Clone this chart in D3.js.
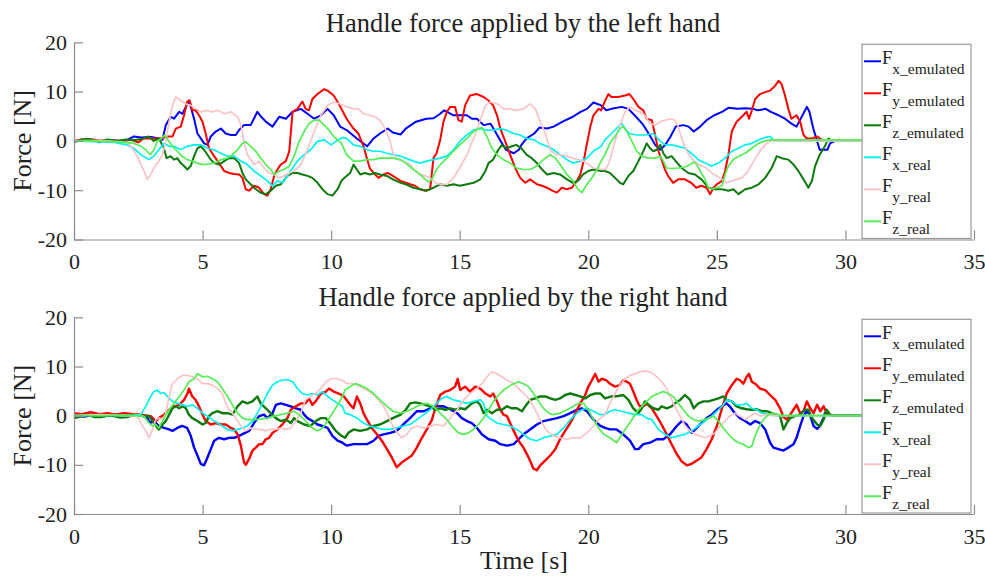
<!DOCTYPE html>
<html><head><meta charset="utf-8">
<script src="https://cdn.jsdelivr.net/npm/d3@7"></script>
<style>
html,body{margin:0;padding:0;background:#fff;}
svg{display:block;font-family:"Liberation Serif","Times New Roman",serif;}
svg text{font-family:"Liberation Serif","Times New Roman",serif;}
</style></head><body>
<svg id="chart" width="985" height="581"></svg>
<script>
// ---------- data ----------
const timeTicks = [0,5,10,15,20,25,30,35];
const forceTicks = [-20,-10,0,10,20];
const titles = ["Handle force applied by the left hand","Handle force applied by the right hand"];
const yLabel = "Force [N]";
const xLabel = "Time [s]";
const seriesNames = ["x_emulated","y_emulated","z_emulated","x_real","y_real","z_real"];
const seriesColors = ["#0000ff","#ff0000","#0d7a0d","#00f2f2","#fbc3c8","#55ee55"];

// Left hand [time s, force N]
const leftFxEmu = [[0,0],[0.5,0.1],[1,0],[1.5,0.1],[2,0],[2.33,0.9],[2.6,0.7],[3.0,0.8],[3.3,0.5],[3.44,0.2],[3.57,3.2],[3.76,4.9],[3.89,4.5],[4.09,5.9],[4.22,5.5],[4.47,8.2],[4.67,4.5],[4.8,1.5],[5.06,-0.5],[5.19,-0.8],[5.32,0.9],[5.51,1.9],[5.71,2.5],[5.9,1.5],[6.1,1.2],[6.29,1.2],[6.42,2.2],[6.61,3.2],[6.87,3.2],[7.13,5.9],[7.26,5.0],[7.46,3.9],[7.72,2.9],[7.98,4.9],[8.24,4.5],[8.5,5.9],[8.82,6.5],[9.08,5.5],[9.34,4.5],[9.6,5.2],[9.86,6.5],[10.1,5.2],[10.35,2.9],[10.6,2.2],[11.0,0.5],[11.4,-1.1],[11.65,0.5],[11.9,1.5],[12.2,2.5],[12.4,1.7],[12.7,1.3],[12.9,2.5],[13.3,3.9],[13.7,4.5],[13.98,4.6],[14.24,5.5],[14.4,6.2],[14.76,5.2],[15.0,5.2],[15.28,5.2],[15.47,4.5],[15.67,4.5],[15.93,3.2],[16.2,3.5],[16.38,1.9],[16.6,-0.1],[16.8,-1.8],[17.1,-2.5],[17.3,-1.8],[17.4,-0.8],[17.6,0.5],[17.9,1.5],[18.1,2.7],[18.4,2.5],[18.65,2.9],[19.0,3.9],[19.4,4.9],[19.7,5.9],[19.95,6.5],[20.2,7.8],[20.5,7.2],[20.7,6.2],[20.9,6.5],[21.3,6.9],[21.56,6.5],[21.8,5.2],[22.1,3.5],[22.3,1.9],[22.6,-0.8],[22.8,-1.8],[23.0,-0.8],[23.2,0.9],[23.4,2.9],[23.7,3.2],[23.9,2.9],[24.1,1.9],[24.35,2.9],[24.6,4.2],[24.9,5.2],[25.2,5.9],[25.45,6.7],[25.8,6.5],[26.1,6.6],[26.4,6.5],[26.6,6.2],[26.9,6.5],[27.1,5.9],[27.4,5.2],[27.65,4.5],[27.9,3.5],[28.1,2.9],[28.3,4.9],[28.5,6.9],[28.6,5.9],[28.75,2.5],[29.0,-1.8],[29.3,-1.8],[29.4,-0.5],[29.6,0],[31,0]];
const leftFyEmu = [[0,0],[0.3,0.3],[0.6,0.4],[1.0,0.1],[1.4,0.2],[1.8,0],[2.2,0.2],[2.5,-0.3],[2.7,0.5],[2.9,0.5],[3.1,0.5],[3.37,0.5],[3.63,0.9],[3.83,0.9],[3.96,2.5],[4.15,2.9],[4.28,5.2],[4.4,7.9],[4.5,8.2],[4.6,6.2],[4.73,6.2],[4.86,5.2],[5.0,3.9],[5.12,1.5],[5.25,-1.5],[5.45,-3.1],[5.64,-4.5],[5.84,-6.1],[6.03,-6.5],[6.23,-6.7],[6.42,-6.8],[6.55,-7.5],[6.68,-9.8],[6.81,-10.1],[7.0,-9.1],[7.2,-9.5],[7.39,-10.8],[7.52,-11.1],[7.65,-9.8],[7.78,-7.1],[7.91,-5.8],[8.04,-4.8],[8.24,-4.1],[8.37,-2.1],[8.5,5.9],[8.69,6.5],[8.88,8.0],[9.01,6.5],[9.14,6.2],[9.27,8.5],[9.47,9.5],[9.73,10.5],[9.86,10.2],[10.1,9.2],[10.3,7.5],[10.45,6.0],[10.6,4.5],[10.87,2.5],[11.06,1.5],[11.26,-1.1],[11.39,-3.5],[11.5,-5.5],[11.65,-6.5],[11.84,-7.5],[12.04,-6.8],[12.2,-6.5],[12.4,-7.1],[12.7,-8.1],[12.9,-8.5],[13.07,-8.8],[13.27,-9.1],[13.46,-9.8],[13.66,-10.1],[13.85,-9.8],[13.98,-3.5],[14.1,-2.5],[14.24,0.2],[14.37,3.9],[14.5,5.9],[14.63,6.9],[14.82,6.9],[14.95,4.2],[15.08,3.9],[15.21,7.2],[15.4,9.2],[15.67,9.5],[15.93,8.9],[16.12,8.2],[16.3,7.2],[16.45,5.2],[16.58,2.5],[16.77,-0.1],[16.96,-2.8],[17.16,-5.5],[17.35,-7.5],[17.55,-8.5],[17.74,-7.8],[18.0,-8.8],[18.2,-9.1],[18.39,-9.5],[18.6,-10.1],[18.78,-10.5],[18.97,-9.5],[19.17,-9.8],[19.36,-9.5],[19.56,-8.1],[19.69,-6.8],[19.82,-4.1],[19.95,-0.5],[20.08,2.9],[20.2,5.2],[20.4,6.5],[20.5,6.2],[20.66,8.2],[20.78,9.5],[20.9,8.9],[21.17,8.9],[21.43,9.2],[21.6,9.5],[21.75,8.5],[21.95,6.9],[22.14,6.2],[22.27,4.5],[22.47,4.2],[22.6,1.2],[22.73,-2.1],[22.85,-3.8],[22.98,-5.8],[23.1,-7.1],[23.3,-8.5],[23.5,-7.8],[23.76,-7.8],[24.0,-8.5],[24.2,-9.5],[24.4,-9.1],[24.6,-9.5],[24.74,-10.8],[24.87,-9.5],[25.0,-8.8],[25.2,-8.1],[25.32,-6.1],[25.45,-2.8],[25.58,1.9],[25.77,3.9],[25.97,4.9],[26.16,5.9],[26.25,4.5],[26.36,6.2],[26.49,8.5],[26.68,9.5],[26.88,9.9],[27.07,10.2],[27.27,11.2],[27.4,12.2],[27.52,11.5],[27.65,9.2],[27.78,6.5],[27.9,4.5],[28.1,5.2],[28.24,3.9],[28.37,1.2],[28.5,0.5],[28.7,0.5],[28.9,0.9],[29.08,0.2],[29.3,0],[31,0]];
const leftFzEmu = [[0,-0.3],[0.3,0.3],[0.6,0.4],[1.0,-0.3],[1.3,0.3],[1.7,0],[2.0,0.3],[2.4,0.2],[2.7,0.5],[2.9,0.9],[3.1,0],[3.3,0.5],[3.5,-1.5],[3.6,-3.5],[3.76,-3.1],[3.89,-3.8],[4.02,-3.5],[4.15,-4.5],[4.28,-5.1],[4.41,-5.8],[4.54,-5.1],[4.67,-3.1],[4.8,-1.5],[4.93,-1.1],[5.06,-1.8],[5.19,-2.8],[5.32,-3.8],[5.45,-4.5],[5.64,-4.8],[5.84,-4.1],[6.03,-3.5],[6.23,-3.5],[6.42,-4.5],[6.55,-6.5],[6.68,-7.8],[6.87,-8.8],[7.07,-9.8],[7.26,-10.5],[7.46,-10.8],[7.65,-10.1],[7.85,-9.1],[8.04,-8.8],[8.3,-7.1],[8.5,-6.5],[8.69,-6.5],[8.88,-6.8],[9.08,-7.1],[9.27,-7.5],[9.47,-8.5],[9.66,-9.8],[9.86,-10.8],[10.05,-11.1],[10.25,-9.8],[10.4,-8.1],[10.6,-7.1],[10.74,-6.5],[10.87,-4.8],[11.0,-5.8],[11.13,-6.8],[11.32,-6.5],[11.5,-6.8],[11.7,-6.5],[11.9,-6.8],[12.17,-7.1],[12.4,-7.8],[12.7,-8.5],[12.9,-8.8],[13.2,-9.5],[13.46,-9.8],[13.72,-10.1],[13.98,-9.5],[14.24,-8.8],[14.5,-9.1],[14.76,-8.8],[15.0,-9.1],[15.28,-8.8],[15.54,-8.5],[15.8,-7.8],[16.0,-6.1],[16.12,-4.5],[16.3,-3.8],[16.5,-1.8],[16.64,-0.8],[16.8,-1.5],[17.03,-1.1],[17.2,-0.8],[17.4,-1.5],[17.6,-2.8],[17.8,-3.5],[18.0,-4.5],[18.2,-5.8],[18.4,-6.8],[18.65,-6.5],[18.9,-6.8],[19.17,-7.8],[19.4,-8.5],[19.6,-8.1],[19.8,-6.8],[20.0,-6.1],[20.2,-5.8],[20.5,-6.1],[20.65,-6.1],[20.84,-6.5],[21.04,-7.5],[21.23,-8.5],[21.36,-8.8],[21.56,-7.1],[21.75,-6.1],[21.95,-4.1],[22.14,-2.1],[22.27,-0.5],[22.4,-1.5],[22.53,-2.1],[22.66,-1.8],[22.8,-0.8],[22.92,-2.5],[23.05,-3.5],[23.24,-3.1],[23.4,-4.1],[23.63,-5.5],[23.89,-6.5],[24.15,-6.8],[24.4,-7.8],[24.67,-9.5],[24.93,-9.8],[25.2,-9.8],[25.45,-10.1],[25.64,-9.8],[25.84,-10.8],[26.1,-9.8],[26.36,-9.5],[26.62,-8.8],[26.88,-7.5],[27.13,-5.5],[27.33,-3.1],[27.52,-3.5],[27.78,-3.8],[27.98,-4.8],[28.17,-6.1],[28.37,-7.8],[28.56,-9.5],[28.7,-8.1],[28.82,-5.1],[29.0,-2.8],[29.2,-1.1],[29.34,0.5],[29.47,0],[31,0]];
const leftFxReal = [[0,0],[1.56,-0.3],[2.07,-0.8],[2.33,-1.5],[2.6,-2.8],[2.92,-3.8],[3.1,-3.1],[3.3,-1.8],[3.5,-0.5],[3.7,-1.1],[3.89,-1.1],[4.15,-1.8],[4.4,-1.1],[4.67,-0.8],[4.93,-0.8],[5.19,-1.5],[5.45,-1.8],[5.71,-2.5],[5.97,-3.1],[6.23,-3.1],[6.49,-4.1],[6.74,-4.8],[7.0,-6.1],[7.26,-7.1],[7.52,-8.1],[7.72,-9.1],[7.91,-8.1],[8.1,-8.5],[8.3,-7.1],[8.5,-5.5],[8.69,-4.1],[8.95,-2.8],[9.2,-1.8],[9.47,-0.1],[9.73,0.2],[10.0,-0.8],[10.18,-0.1],[10.44,0.7],[10.6,0.5],[10.87,-0.8],[11.13,-1.1],[11.4,-1.8],[11.65,-2.1],[11.9,-2.1],[12.17,-2.5],[12.4,-2.8],[12.7,-3.1],[12.9,-3.5],[13.2,-4.1],[13.46,-4.5],[13.72,-4.1],[13.98,-3.8],[14.24,-3.5],[14.5,-3.1],[14.76,-1.8],[15.0,-0.1],[15.28,1.2],[15.54,2.2],[15.8,2.5],[16.06,2.2],[16.3,2.2],[16.58,2.5],[16.8,2.2],[17.1,1.5],[17.35,1.2],[17.6,0.5],[17.9,0.2],[18.1,-0.5],[18.4,-1.1],[18.65,-1.8],[18.9,-2.8],[19.17,-3.8],[19.4,-4.5],[19.69,-4.1],[19.95,-3.5],[20.2,-2.1],[20.5,-1.1],[20.65,0.2],[20.9,1.5],[21.17,2.9],[21.3,3.5],[21.43,2.5],[21.6,1.5],[21.88,1.2],[22.2,1.2],[22.53,1.5],[22.8,-0.1],[23.0,-0.8],[23.24,-0.8],[23.5,-1.1],[23.76,-1.5],[24.0,-2.5],[24.28,-3.8],[24.54,-4.5],[24.8,-5.1],[25.06,-4.5],[25.32,-3.5],[25.58,-2.1],[25.84,-1.5],[26.1,-0.8],[26.36,-0.5],[26.62,0.2],[26.88,0.7],[27.07,0.9],[27.2,0.2],[27.4,0],[31,0]];
const leftFyReal = [[0,0],[1.0,0.1],[2.07,-0.3],[2.27,-1.5],[2.46,-3.1],[2.6,-4.8],[2.72,-6.1],[2.85,-7.8],[2.98,-6.8],[3.11,-5.5],[3.3,-4.1],[3.44,-2.8],[3.57,-0.1],[3.7,3.9],[3.83,7.2],[3.96,8.9],[4.15,8.2],[4.35,7.5],[4.54,7.2],[4.73,6.5],[4.93,5.9],[5.19,6.2],[5.38,5.9],[5.58,6.2],[5.84,5.5],[6.1,5.9],[6.36,4.9],[6.49,3.2],[6.61,-0.1],[6.74,-2.8],[6.87,-3.8],[7.0,-4.8],[7.2,-4.1],[7.39,-5.5],[7.59,-6.5],[7.78,-6.8],[7.98,-7.5],[8.17,-7.1],[8.37,-6.5],[8.56,-6.1],[8.82,-4.8],[9.08,-1.8],[9.34,1.9],[9.6,5.2],[9.86,7.2],[10.1,7.9],[10.4,7.4],[10.6,6.9],[10.87,6.5],[11.06,6.5],[11.26,5.5],[11.5,5.2],[11.7,4.9],[11.9,4.2],[12.1,2.5],[12.3,-0.1],[12.4,-2.5],[12.6,-3.8],[12.8,-4.1],[13.07,-4.8],[13.27,-6.1],[13.46,-6.8],[13.66,-7.1],[13.85,-7.5],[14.05,-8.5],[14.24,-8.8],[14.5,-8.8],[14.76,-7.5],[15.0,-5.5],[15.28,-2.8],[15.54,0.5],[15.8,4.2],[16.0,7.2],[16.19,7.9],[16.45,7.5],[16.7,6.5],[16.96,6.5],[17.2,6.2],[17.48,6.5],[17.74,7.5],[17.94,6.5],[18.13,3.9],[18.33,1.5],[18.52,-1.8],[18.72,-2.8],[18.9,-2.8],[19.17,-3.1],[19.4,-3.5],[19.6,-3.8],[19.82,-4.1],[20.0,-4.8],[20.2,-5.5],[20.5,-5.8],[20.65,-5.8],[20.78,-4.8],[20.9,-2.8],[21.04,-0.1],[21.23,3.2],[21.43,5.9],[21.62,6.9],[21.82,6.2],[22.0,5.9],[22.2,5.2],[22.4,3.5],[22.6,3.2],[22.8,3.9],[23.0,4.2],[23.18,4.5],[23.37,4.2],[23.5,2.9],[23.63,0.5],[23.83,-2.1],[24.02,-3.5],[24.22,-4.5],[24.4,-5.1],[24.6,-5.5],[24.8,-6.5],[25.0,-7.1],[25.2,-7.8],[25.38,-8.5],[25.58,-8.1],[25.77,-7.8],[25.97,-7.5],[26.16,-6.5],[26.36,-4.8],[26.55,-3.1],[26.75,-1.5],[26.94,-0.5],[27.13,0],[31,0]];
const leftFzReal = [[0,0],[0.78,0],[1.95,-0.3],[2.33,-0.5],[2.6,-1.1],[2.79,-1.8],[2.96,-2.8],[3.11,-1.8],[3.24,-0.1],[3.4,0.5],[3.53,1.2],[3.66,0.2],[3.83,-1.1],[4.02,-2.1],[4.2,-3.1],[4.4,-3.8],[4.6,-4.1],[4.8,-4.5],[5.0,-4.8],[5.19,-4.7],[5.45,-4.5],[5.71,-3.8],[5.97,-3.5],[6.16,-2.8],[6.36,-1.8],[6.55,-0.5],[6.68,-0.2],[6.87,-1.1],[7.07,-2.1],[7.26,-3.5],[7.46,-4.8],[7.65,-5.8],[7.78,-6.8],[7.98,-6.1],[8.17,-5.8],[8.37,-5.1],[8.56,-3.1],[8.75,-0.1],[8.95,1.9],[9.14,3.5],[9.34,4.2],[9.53,4.2],[9.73,3.2],[9.92,2.2],[10.1,0.9],[10.4,-0.5],[10.6,-2.8],[10.87,-4.1],[11.13,-4.1],[11.4,-3.8],[11.65,-3.8],[11.9,-3.5],[12.17,-3.5],[12.4,-3.5],[12.7,-3.8],[12.9,-4.5],[13.2,-5.8],[13.46,-6.8],[13.66,-7.8],[13.79,-8.3],[13.92,-7.8],[14.1,-5.8],[14.3,-4.5],[14.5,-3.5],[14.76,-2.1],[15.0,-0.8],[15.28,0.5],[15.54,1.9],[15.73,2.5],[15.86,2.7],[16.06,0.9],[16.25,-1.5],[16.45,-2.8],[16.7,-3.8],[16.96,-4.5],[17.2,-5.5],[17.48,-5.8],[17.74,-5.8],[18.0,-5.1],[18.26,-3.8],[18.52,-2.8],[18.72,-3.5],[18.9,-4.8],[19.17,-6.8],[19.4,-8.1],[19.6,-9.8],[19.75,-10.5],[19.95,-8.8],[20.14,-7.5],[20.34,-5.8],[20.5,-4.1],[20.65,-2.8],[20.84,-0.5],[21.04,0.9],[21.23,2.5],[21.36,2.9],[21.5,1.9],[21.7,-0.1],[21.88,-2.1],[22.08,-3.1],[22.34,-3.5],[22.6,-3.5],[22.8,-3.1],[22.92,-4.1],[23.05,-5.5],[23.24,-5.6],[23.5,-5.5],[23.76,-5.3],[23.96,-4.8],[24.1,-4.3],[24.22,-4.8],[24.35,-6.1],[24.54,-7.8],[24.67,-9.5],[24.8,-9.8],[25.0,-9.5],[25.2,-9.1],[25.32,-6.8],[25.45,-5.1],[25.64,-3.8],[25.84,-3.1],[26.1,-2.5],[26.36,-1.5],[26.62,-0.5],[26.88,0],[27.13,0.2],[31,0.2]];

// Right hand [time s, force N]
const rightFxEmu = [[0,0],[0.4,-0.2],[0.8,0.2],[1.2,-0.1],[1.6,0.2],[2.0,0],[2.4,0.1],[2.7,-0.1],[2.85,-0.5],[2.96,-1.5],[3.11,-1.1],[3.3,-2.1],[3.5,-2.5],[3.7,-2.8],[3.83,-3.1],[4.02,-2.5],[4.2,-2.1],[4.4,-2.5],[4.54,-4.1],[4.67,-6.5],[4.8,-8.1],[4.93,-9.8],[5.06,-10.1],[5.19,-8.5],[5.32,-6.8],[5.45,-5.1],[5.64,-4.5],[5.84,-4.8],[6.03,-4.5],[6.23,-4.5],[6.42,-4.1],[6.61,-3.6],[6.81,-3.1],[7.0,-1.5],[7.2,-0.1],[7.39,0.2],[7.52,-0.5],[7.72,0.5],[7.85,2.2],[8.04,2.5],[8.24,2.2],[8.43,1.9],[8.63,1.5],[8.82,1.2],[8.95,0.2],[9.08,-0.5],[9.27,-1.1],[9.47,-1.8],[9.66,-2.1],[9.86,-2.5],[10.05,-4.1],[10.25,-5.1],[10.44,-5.5],[10.6,-6.1],[10.87,-5.8],[11.13,-5.8],[11.4,-5.8],[11.65,-5.1],[11.84,-4.1],[12.04,-3.8],[12.3,-3.5],[12.55,-3.1],[12.8,-1.8],[13.07,-0.5],[13.33,0.9],[13.6,0.9],[13.85,1.5],[14.1,1.9],[14.37,1.9],[14.63,1.3],[14.9,0.5],[15.08,-0.5],[15.28,-1.1],[15.47,-1.5],[15.67,-2.5],[15.86,-3.8],[16.12,-4.8],[16.38,-5.1],[16.58,-5.8],[16.84,-6.1],[17.1,-5.8],[17.29,-4.8],[17.48,-3.8],[17.74,-2.8],[18.0,-1.8],[18.26,-1.1],[18.52,-0.8],[18.78,-0.5],[19.04,-0.1],[19.3,0.5],[19.56,1.2],[19.75,1.5],[19.95,0.9],[20.2,-0.8],[20.47,-2.1],[20.65,-2.5],[20.84,-2.8],[21.1,-2.8],[21.36,-3.8],[21.62,-5.1],[21.82,-6.8],[21.95,-6.8],[22.14,-5.8],[22.4,-5.5],[22.66,-4.8],[22.92,-4.8],[23.18,-3.8],[23.44,-2.1],[23.63,-1.1],[23.83,-1.8],[24.02,-3.5],[24.22,-2.5],[24.4,-1.5],[24.6,-0.5],[24.8,0.2],[25.0,1.2],[25.2,1.9],[25.38,2.5],[25.5,1.9],[25.7,0.5],[25.9,-0.5],[26.1,-1.1],[26.3,-1.8],[26.49,-1.1],[26.68,-1.5],[26.88,-2.8],[27.07,-5.5],[27.2,-6.5],[27.4,-6.8],[27.59,-7.1],[27.78,-6.5],[27.98,-5.8],[28.1,-4.5],[28.24,-2.1],[28.37,-0.1],[28.5,0.9],[28.63,0],[28.76,-2.1],[28.9,-2.7],[29.0,-2.1],[29.15,-0.5],[29.2,0.5],[29.34,0.2],[29.5,0],[31,0]];
const rightFyEmu = [[0,0.5],[0.3,0.3],[0.65,0.7],[1.0,0.3],[1.3,0.5],[1.6,0.2],[1.95,0.5],[2.3,0.3],[2.6,0.2],[2.98,-0.1],[3.18,-1.1],[3.3,-0.5],[3.5,0.2],[3.7,1.2],[3.9,1.9],[4.09,2.2],[4.28,3.2],[4.41,4.5],[4.47,5.5],[4.6,3.9],[4.73,3.2],[4.86,1.9],[5.0,0.2],[5.12,-1.1],[5.32,-1.8],[5.51,-1.5],[5.71,-1.8],[5.9,-1.8],[6.1,-2.5],[6.23,-2.8],[6.36,-3.8],[6.49,-6.1],[6.61,-9.5],[6.68,-10],[6.81,-8.8],[6.94,-7.1],[7.07,-6.5],[7.2,-5.8],[7.33,-5.8],[7.46,-4.8],[7.59,-4.5],[7.72,-3.5],[7.91,-2.8],[8.1,-1.8],[8.3,-0.5],[8.43,1.2],[8.63,1.9],[8.82,2.5],[9.0,2.5],[9.14,3.5],[9.27,2.2],[9.4,2.9],[9.6,4.5],[9.79,4.9],[9.92,5.5],[10.1,4.9],[10.3,4.5],[10.5,3.9],[10.74,2.2],[10.87,1.5],[11.0,3.9],[11.13,2.5],[11.26,0.5],[11.39,-0.8],[11.58,-2.5],[11.78,-3.8],[11.97,-5.1],[12.17,-6.8],[12.36,-8.5],[12.55,-10.5],[12.75,-9.5],[12.94,-8.8],[13.14,-8.1],[13.33,-6.5],[13.53,-4.5],[13.72,-2.8],[13.92,-0.8],[14.05,1.5],[14.24,4.2],[14.44,4.9],[14.63,5.2],[14.82,5.9],[14.92,7.5],[15.02,5.2],[15.21,5.9],[15.4,4.9],[15.6,5.9],[15.8,5.5],[16.0,4.5],[16.19,3.9],[16.3,4.5],[16.45,2.9],[16.58,1.2],[16.7,0.2],[16.84,-0.1],[16.96,-1.5],[17.1,-3.1],[17.29,-5.1],[17.48,-6.5],[17.68,-8.5],[17.87,-10.8],[18.0,-11.1],[18.13,-10.1],[18.33,-9.1],[18.52,-8.1],[18.72,-6.8],[18.9,-4.8],[19.1,-3.1],[19.3,-1.5],[19.5,0.5],[19.69,2.5],[19.88,4.2],[20.0,5.9],[20.14,7.2],[20.27,8.5],[20.4,6.9],[20.53,7.5],[20.7,7.2],[20.84,6.5],[21.04,5.9],[21.23,6.2],[21.36,7.2],[21.5,6.9],[21.62,6.5],[21.75,4.9],[21.88,3.2],[22.0,1.9],[22.14,1.9],[22.27,2.5],[22.47,1.5],[22.66,-0.1],[22.85,-1.8],[23.05,-3.8],[23.24,-5.8],[23.44,-7.8],[23.63,-9.3],[23.83,-10.1],[24.02,-9.8],[24.22,-9.1],[24.4,-8.5],[24.6,-6.8],[24.8,-4.8],[25.0,-2.1],[25.2,1.5],[25.38,4.5],[25.58,6.2],[25.77,7.5],[25.9,7.2],[26.03,6.5],[26.16,7.9],[26.25,8.5],[26.36,6.9],[26.49,6.5],[26.68,5.5],[26.88,5.2],[27.07,4.2],[27.27,3.2],[27.46,1.5],[27.59,-0.3],[27.72,-0.8],[27.85,0.2],[27.98,1.2],[28.1,2.2],[28.24,0.5],[28.37,0.9],[28.5,2.9],[28.63,1.5],[28.76,0.5],[28.9,2.2],[29.02,0.9],[29.15,1.9],[29.27,0.5],[29.4,0.2],[29.6,0],[31,0]];
const rightFzEmu = [[0,-0.5],[0.25,-0.2],[0.52,0.2],[0.8,-0.3],[1.04,-0.3],[1.3,0],[1.56,-0.1],[1.8,-0.4],[2.07,-0.3],[2.3,0.1],[2.6,0],[2.92,-0.1],[3.11,-1.5],[3.3,-2.8],[3.44,-1.8],[3.57,-1.1],[3.7,0.2],[3.83,1.5],[3.96,1.9],[4.09,1.5],[4.22,1.9],[4.35,1.5],[4.47,0.2],[4.6,-0.5],[4.8,-1.1],[5.0,-1.8],[5.12,-1.5],[5.25,-0.1],[5.38,0.5],[5.58,0.9],[5.77,0.5],[5.97,0.5],[6.16,0.2],[6.36,1.9],[6.55,2.9],[6.74,2.5],[6.94,2.9],[7.13,3.9],[7.26,2.5],[7.46,1.5],[7.65,0.5],[7.85,-0.5],[8.04,-1.1],[8.24,-0.8],[8.43,-1.5],[8.56,-0.5],[8.69,-1.1],[8.95,-1.8],[9.2,-2.1],[9.4,-1.1],[9.6,-0.5],[9.79,-0.5],[10.0,-1.8],[10.18,-3.1],[10.4,-4.1],[10.54,-4.5],[10.67,-3.5],[10.87,-2.8],[11.13,-3.1],[11.4,-2.8],[11.65,-2.1],[11.9,-1.8],[12.17,-1.1],[12.4,-0.5],[12.7,0.2],[12.9,1.2],[13.07,2.5],[13.27,2.7],[13.46,2.5],[13.66,2.2],[13.85,1.9],[14.05,1.2],[14.24,1.5],[14.44,1.2],[14.63,1.5],[14.82,1.2],[15.02,1.5],[15.21,1.3],[15.34,1.9],[15.47,2.5],[15.67,2.9],[15.8,2.2],[15.93,0.5],[16.06,1.2],[16.25,0.5],[16.45,1.2],[16.64,1.2],[16.84,1.9],[17.03,1.5],[17.22,1.5],[17.42,0.9],[17.55,1.9],[17.74,3.2],[17.94,3.5],[18.13,3.9],[18.33,3.9],[18.52,3.5],[18.72,3.2],[18.9,3.5],[19.1,4.2],[19.3,4.5],[19.5,4.2],[19.69,3.9],[19.88,3.5],[20.08,4.2],[20.27,4.5],[20.47,4.5],[20.65,3.5],[20.9,3.9],[21.17,4.0],[21.36,4.2],[21.56,3.2],[21.75,1.5],[21.95,0.5],[22.08,1.5],[22.2,2.9],[22.34,2.2],[22.53,1.5],[22.73,1.2],[22.85,1.9],[23.05,1.5],[23.24,1.9],[23.37,2.5],[23.57,3.2],[23.76,4.2],[23.96,3.2],[24.1,1.5],[24.28,2.5],[24.48,2.9],[24.67,2.9],[24.87,3.2],[25.06,3.5],[25.25,3.9],[25.38,3.2],[25.58,2.9],[25.77,1.9],[25.97,1.5],[26.16,1.3],[26.36,1.2],[26.55,1.3],[26.75,0.9],[26.94,0.9],[27.13,0.5],[27.33,0.2],[27.46,-0.1],[27.59,-2.8],[27.72,-1.5],[27.85,-0.5],[28.04,-0.1],[28.24,0.2],[28.43,1.2],[28.56,1.2],[28.7,-0.5],[28.9,-1.8],[29.02,-2.1],[29.15,-0.8],[29.27,1.2],[29.4,0.2],[29.55,0],[31,0]];
const rightFxReal = [[0,0],[1.0,0.1],[2.0,0],[2.6,0.2],[2.79,1.9],[2.98,3.9],[3.11,4.9],[3.24,5.2],[3.37,4.5],[3.5,4.7],[3.63,3.9],[3.83,2.9],[4.02,2.5],[4.22,2.2],[4.41,1.9],[4.6,2.2],[4.8,1.5],[5.0,0.5],[5.19,-0.1],[5.38,-0.8],[5.58,-1.5],[5.77,-2.1],[5.97,-2.8],[6.16,-3.1],[6.36,-2.8],[6.55,-2.5],[6.74,-2.1],[6.94,-1.1],[7.13,0.5],[7.33,2.5],[7.52,4.5],[7.72,6.2],[7.91,6.9],[8.1,7.2],[8.3,7.3],[8.5,6.9],[8.69,5.5],[8.88,4.5],[9.08,4.2],[9.27,4.5],[9.47,4.2],[9.66,4.9],[9.86,3.9],[10.05,3.2],[10.25,2.5],[10.44,1.9],[10.54,0.5],[10.74,0.2],[11.0,-0.5],[11.26,-1.5],[11.5,-2.1],[11.78,-2.5],[12.04,-2.8],[12.3,-2.8],[12.55,-2.5],[12.8,-2.1],[13.07,-1.8],[13.33,-0.8],[13.6,0.2],[13.85,1.2],[14.1,2.5],[14.3,3.5],[14.5,3.9],[14.76,3.2],[15.0,2.9],[15.28,2.5],[15.54,2.9],[15.8,3.2],[15.93,2.5],[16.06,-0.1],[16.25,-0.8],[16.45,-1.5],[16.7,-1.8],[16.96,-2.1],[17.22,-2.8],[17.48,-3.8],[17.74,-4.8],[18.0,-5.1],[18.26,-4.5],[18.52,-4.1],[18.78,-3.8],[19.04,-2.5],[19.3,-0.8],[19.56,0.5],[19.75,1.2],[19.95,1.5],[20.2,0.9],[20.47,0.2],[20.65,0.2],[20.84,0.9],[21.04,1.2],[21.3,0.9],[21.56,0.5],[21.82,0.2],[22.08,0.2],[22.27,-0.5],[22.47,-0.8],[22.73,-2.8],[22.98,-3.8],[23.24,-4.5],[23.5,-4.1],[23.76,-3.8],[24.02,-3.1],[24.28,-2.1],[24.54,-1.1],[24.8,-0.1],[25.06,1.2],[25.25,2.2],[25.38,3.2],[25.58,2.9],[25.77,2.2],[25.97,2.2],[26.16,2.5],[26.36,1.5],[26.55,1.2],[26.75,0.5],[27.0,0.2],[27.27,0],[31,0]];
const rightFyReal = [[0,0],[1.0,0.2],[2.0,0],[2.46,-0.1],[2.66,-2.1],[2.79,-3.1],[2.92,-4.5],[3.05,-2.8],[3.18,-0.8],[3.3,-0.5],[3.44,-0.8],[3.57,0.5],[3.7,3.9],[3.83,6.5],[4.02,7.5],[4.22,8.2],[4.41,8.2],[4.6,7.9],[4.8,7.5],[5.0,6.5],[5.19,6.5],[5.38,6.2],[5.58,5.5],[5.77,4.5],[5.9,2.5],[6.03,1.2],[6.16,0.5],[6.29,-0.5],[6.49,-2.1],[6.68,-3.1],[6.87,-2.5],[7.07,-2.8],[7.26,-2.8],[7.46,-3.1],[7.65,-2.8],[7.85,-2.8],[8.04,-2.5],[8.24,-2.8],[8.43,-2.5],[8.63,-1.1],[8.82,0.5],[9.0,3.2],[9.2,3.9],[9.4,4.5],[9.6,5.5],[9.8,6.9],[10.0,7.5],[10.25,7.5],[10.5,7.0],[10.6,6.5],[10.87,6.5],[11.13,5.9],[11.4,5.2],[11.65,4.2],[11.84,3.2],[12.04,1.9],[12.23,-0.1],[12.4,-2.1],[12.62,-3.8],[12.75,-4.5],[12.94,-3.8],[13.14,-2.5],[13.33,-2.1],[13.6,-2.5],[13.85,-2.1],[14.1,-1.8],[14.37,-2.1],[14.63,-0.5],[14.9,1.2],[15.15,3.2],[15.4,4.5],[15.67,5.5],[15.86,6.5],[16.06,7.9],[16.25,8.9],[16.45,8.5],[16.64,7.9],[16.84,7.2],[17.1,6.5],[17.35,5.2],[17.61,3.9],[17.8,2.5],[18.0,0.5],[18.2,-1.5],[18.39,-3.1],[18.65,-4.1],[18.9,-4.5],[19.17,-4.8],[19.43,-4.5],[19.69,-4.5],[19.95,-3.5],[20.2,-2.1],[20.47,-0.5],[20.65,0.2],[20.84,2.5],[21.04,4.5],[21.23,6.2],[21.43,7.5],[21.62,8.2],[21.82,8.5],[22.0,8.9],[22.2,9.1],[22.4,8.9],[22.6,8.2],[22.8,7.2],[23.0,5.9],[23.18,3.9],[23.37,1.9],[23.57,-0.1],[23.76,-2.1],[23.96,-3.1],[24.15,-3.8],[24.35,-4.1],[24.54,-4.5],[24.74,-4.1],[24.93,-3.5],[25.12,-2.1],[25.32,-1.1],[25.5,-0.1],[25.7,0.5],[25.9,-0.1],[26.1,-0.8],[26.3,-0.1],[26.49,0.5],[26.68,-0.1],[26.88,0.2],[27.1,0],[31,0]];
const rightFzReal = [[0,0],[1.0,0],[2.0,0.1],[2.72,-0.1],[2.92,-1.5],[3.05,-2.1],[3.18,-1.8],[3.3,-2.5],[3.44,-1.1],[3.57,0.2],[3.7,1.2],[3.89,2.5],[4.09,3.9],[4.28,5.2],[4.47,6.9],[4.67,7.5],[4.8,8.5],[5.0,7.9],[5.19,8.0],[5.38,7.5],[5.58,6.9],[5.77,5.5],[5.97,3.9],[6.16,2.2],[6.36,0.5],[6.55,-0.5],[6.74,-0.8],[7.0,-0.8],[7.26,-0.7],[7.52,-0.5],[7.78,-0.1],[8.04,0.2],[8.3,0.5],[8.56,0.9],[8.82,-0.1],[9.08,-1.5],[9.27,-2.5],[9.47,-3.1],[9.66,-2.5],[9.86,-1.1],[10.05,0.5],[10.25,2.2],[10.44,3.9],[10.54,5.2],[10.74,5.9],[10.93,6.5],[11.13,6.2],[11.4,5.5],[11.65,4.5],[11.9,3.2],[12.17,1.9],[12.4,0.9],[12.7,0.5],[12.94,0.9],[13.2,1.5],[13.46,2.2],[13.72,2.5],[13.98,1.9],[14.24,0.5],[14.5,-0.8],[14.76,-2.5],[14.95,-3.5],[15.15,-3.8],[15.34,-3.5],[15.54,-2.8],[15.73,-1.8],[15.93,-0.5],[16.12,1.2],[16.32,2.9],[16.51,4.2],[16.7,5.2],[16.9,5.9],[17.1,6.5],[17.29,6.9],[17.48,6.5],[17.68,5.9],[17.87,4.5],[18.07,2.9],[18.26,1.5],[18.46,0.5],[18.65,0.2],[18.9,0.5],[19.17,1.2],[19.43,1.9],[19.62,2.5],[19.82,2.5],[20.0,1.2],[20.2,-0.8],[20.4,-2.5],[20.6,-3.8],[20.84,-4.5],[21.1,-5.5],[21.43,-2.8],[21.7,-0.8],[21.95,1.2],[22.2,2.5],[22.47,3.9],[22.73,4.5],[22.92,4.9],[23.1,4.5],[23.3,3.9],[23.5,2.5],[23.7,1.2],[23.9,-0.1],[24.1,-0.8],[24.28,-1.1],[24.48,-0.9],[24.67,-0.5],[24.87,-0.1],[25.06,-1.1],[25.25,-2.5],[25.45,-3.8],[25.64,-4.8],[25.84,-5.5],[26.03,-5.8],[26.23,-6.5],[26.36,-6.2],[26.49,-4.1],[26.62,-2.5],[26.81,-0.8],[27.0,0.2],[27.2,0.5],[27.5,0],[31,0]];

const leftSeries = [leftFxEmu,leftFyEmu,leftFzEmu,leftFxReal,leftFyReal,leftFzReal];
const rightSeries = [rightFxEmu,rightFyEmu,rightFzEmu,rightFxReal,rightFyReal,rightFzReal];

// ---------- drawing ----------
const svg = d3.select("#chart");
const X0 = 74, X1 = 974;
const FONT = '"Liberation Serif","Times New Roman",serif';
const panels = [
  {title: titles[0], series: leftSeries, top: 42.3, bottom: 239.5, titleY: 32, xlabel: false, emuWidth: 2},
  {title: titles[1], series: rightSeries, top: 317.3, bottom: 514, titleY: 306, xlabel: true, emuWidth: 2.4}
];
const axisColor = "#8c8c8c", textColor = "#222222";

panels.forEach(p => {
  const x = d3.scaleLinear().domain([0,35]).range([X0, X1]);
  const y = d3.scaleLinear().domain([-20,20]).range([p.bottom, p.top]);
  const g = svg.append("g");

  // lines
  const line = d3.line().x(d => x(d[0])).y(d => y(d[1]));
  p.series.forEach((s, i) => {
    g.append("path").datum(s)
      .attr("d", line)
      .attr("fill", "none")
      .attr("stroke", seriesColors[i])
      .attr("stroke-width", i < 3 ? p.emuWidth : 1.7)
      .attr("stroke-linejoin", "round");
  });

  // axes
  const fmt = d => String(d);
  const ax = g.append("g").attr("transform", `translate(0,${p.bottom})`)
    .call(d3.axisBottom(x).tickValues(timeTicks).tickFormat(fmt).tickSizeInner(-9).tickSizeOuter(0).tickPadding(14));
  const ay = g.append("g").attr("transform", `translate(${X0},0)`)
    .call(d3.axisLeft(y).tickValues(forceTicks).tickFormat(fmt).tickSizeInner(-9).tickSizeOuter(0).tickPadding(7));
  [ax, ay].forEach(a => {
    a.attr("font-family", FONT).attr("font-size", 22);
    a.select(".domain").attr("stroke", axisColor).attr("stroke-width", 1.2);
    a.selectAll(".tick line").attr("stroke", axisColor).attr("stroke-width", 1.2);
    a.selectAll(".tick text").attr("fill", textColor)
      .style("font-family", FONT).style("font-size", "22px");
  });

  // title
  svg.append("text").attr("x", (X0 + X1) / 2 - 1).attr("y", p.titleY)
    .attr("text-anchor", "middle").attr("fill", textColor)
    .style("font-family", FONT).style("font-size", "26.5px").text(p.title);

  // y label
  const cy = y(0);
  svg.append("text").attr("transform", `translate(31,${cy}) rotate(-90)`)
    .attr("text-anchor", "middle").attr("fill", textColor)
    .style("font-family", FONT).style("font-size", "26px").text(yLabel);

  if (p.xlabel) {
    svg.append("text").attr("x", (X0 + X1) / 2).attr("y", 569)
      .attr("text-anchor", "middle").attr("fill", textColor)
      .style("font-family", FONT).style("font-size", "26px").text(xLabel);
  }

  // legend
  const lx = 862, ly = p.top + 2, lw = 109, lh = p.bottom - p.top - 3;
  const lg = svg.append("g");
  lg.append("rect").attr("x", lx).attr("y", ly).attr("width", lw).attr("height", lh)
    .attr("fill", "#fff").attr("stroke", "#9a9a9a").attr("stroke-width", 1.2);
  seriesNames.forEach((n, i) => {
    const yy = ly + 17 + i * 32;
    lg.append("line").attr("x1", lx + 2).attr("x2", lx + 19).attr("y1", yy).attr("y2", yy)
      .attr("stroke", seriesColors[i]).attr("stroke-width", 2);
    const t = lg.append("text").attr("x", lx + 20).attr("y", yy + 3).attr("fill", textColor)
      .style("font-family", FONT);
    t.append("tspan").style("font-size", "18.5px").text("F");
    t.append("tspan").attr("dy", 10).style("font-size", "15.5px").text(n);
  });
});
</script>
</body></html>
